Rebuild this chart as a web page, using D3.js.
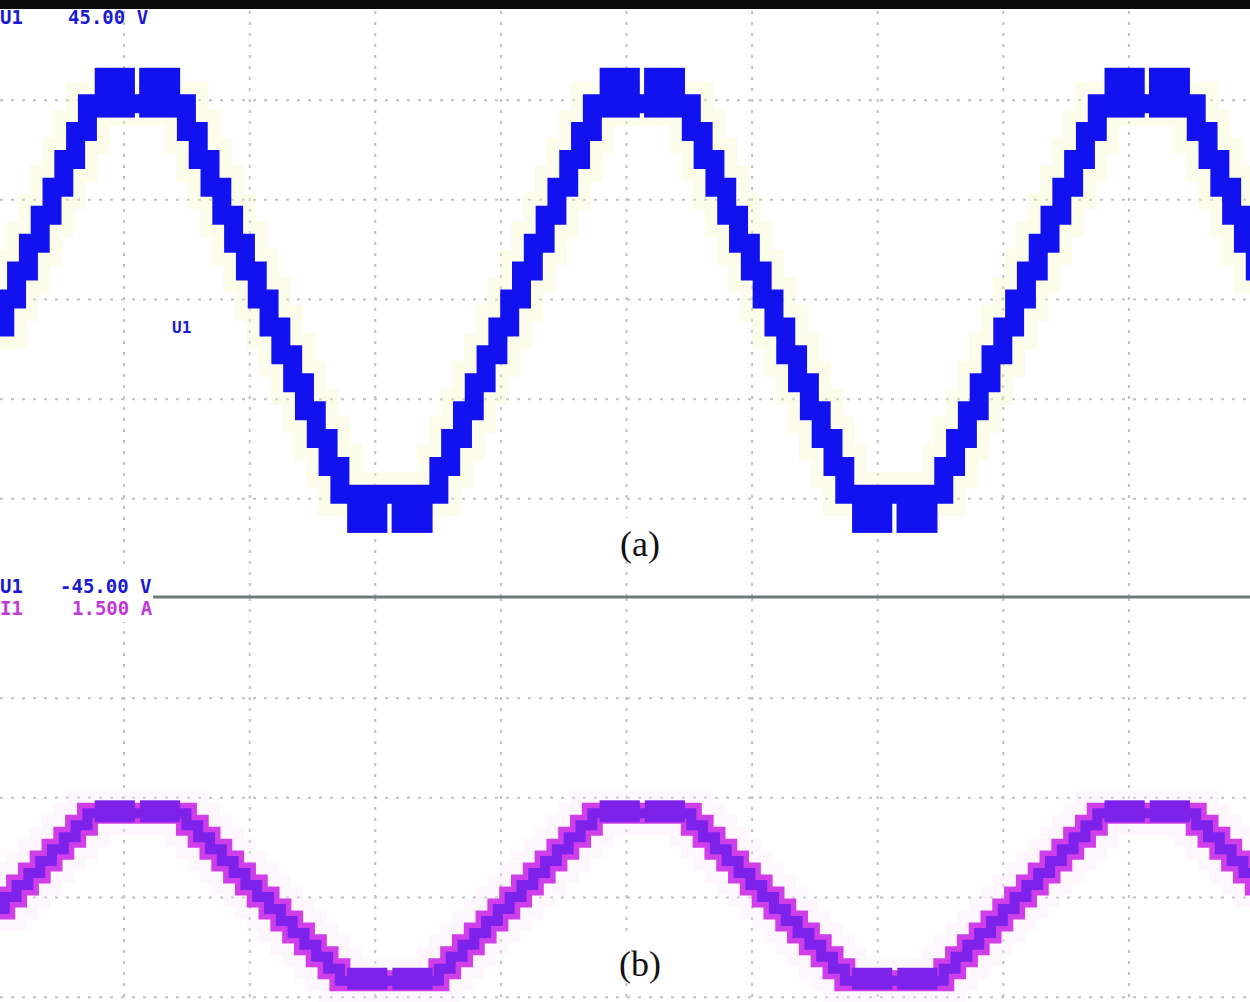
<!DOCTYPE html>
<html>
<head>
<meta charset="utf-8">
<script src="https://cdnjs.cloudflare.com/ajax/libs/d3/7.8.5/d3.min.js"></script>
<style>
  html, body { margin: 0; padding: 0; background: #fff; }
  svg { display: block; }
  .grid line { stroke: #b9c3c3; stroke-width: 2; stroke-dasharray: 3,8; }
  .grid path { display: none; }
  .scope { font-family: "DejaVu Sans Mono", monospace; font-weight: bold; font-size: 19px; }
  .panel-label { font-family: "Liberation Serif", "Times New Roman", serif; font-size: 36px; }
</style>
</head>
<body>
<svg id="chart"></svg>
<script>
'use strict';

// time in ms (5 ms/div), voltage in V (15 V/div), current in A (0.5 A/div)
var timeTicks = [5, 10, 15, 20, 25, 30, 35, 40, 45];
var voltTicks = [-30, -15, 0, 15, 30];
var currTicks = [1.0, 0.5, 0, -0.5];

// staircase of the inverter voltage U1: [t (ms), level (V)]
var voltSteps = [
    [-0.1, -4.2], [0.27, 0], [0.74, 4.2], [1.21, 8.4], [1.68, 12.6], [2.15, 16.8], [2.62, 21.0], [3.09, 25.2], [3.56, 29.4],
    [7.50, 25.2], [7.97, 21.0], [8.44, 16.8], [8.91, 12.6], [9.38, 8.4], [9.85, 4.2], [10.32, 0], [10.79, -4.2],
    [11.26, -8.4], [11.73, -12.6], [12.20, -16.8], [12.67, -21.0], [13.14, -25.2], [13.61, -29.4],
    [17.55, -25.2], [18.02, -21.0], [18.49, -16.8], [18.96, -12.6], [19.43, -8.4], [19.90, -4.2], [20.37, 0], [20.84, 4.2],
    [21.31, 8.4], [21.78, 12.6], [22.25, 16.8], [22.72, 21.0], [23.19, 25.2], [23.66, 29.4],
    [27.60, 25.2], [28.07, 21.0], [28.54, 16.8], [29.01, 12.6], [29.48, 8.4], [29.95, 4.2], [30.42, 0], [30.89, -4.2],
    [31.36, -8.4], [31.83, -12.6], [32.30, -16.8], [32.77, -21.0], [33.24, -25.2], [33.71, -29.4],
    [37.65, -25.2], [38.12, -21.0], [38.59, -16.8], [39.06, -12.6], [39.53, -8.4], [40.00, -4.2], [40.47, 0], [40.94, 4.2],
    [41.41, 8.4], [41.88, 12.6], [42.35, 16.8], [42.82, 21.0], [43.29, 25.2], [43.76, 29.4],
    [47.70, 25.2], [48.17, 21.0], [48.64, 16.8], [49.11, 12.6], [49.58, 8.4], [50.05, 4.2], [50.30, 4.2]
];
// PWM plateaus of U1: [t0, t1, vLow, vHigh]
var voltPlateaus = [
    [3.85, 5.45, 27.3, 34.8], [5.62, 7.25, 27.3, 34.8],
    [13.90, 15.50, -35.2, -28.0], [15.67, 17.30, -35.2, -28.0],
    [23.95, 25.55, 27.3, 34.8], [25.72, 27.35, 27.3, 34.8],
    [34.00, 35.60, -35.2, -28.0], [35.77, 37.40, -35.2, -28.0],
    [44.05, 45.65, 27.3, 34.8], [45.82, 47.45, 27.3, 34.8]
];

// staircase of the load current I1: [t (ms), level (A)]
var currSteps = [
    [-0.1, -0.06], [0.27, 0], [0.74, 0.06], [1.21, 0.12], [1.68, 0.18], [2.15, 0.24], [2.62, 0.30], [3.09, 0.36], [3.56, 0.42],
    [7.50, 0.36], [7.97, 0.30], [8.44, 0.24], [8.91, 0.18], [9.38, 0.12], [9.85, 0.06], [10.32, 0], [10.79, -0.06],
    [11.26, -0.12], [11.73, -0.18], [12.20, -0.24], [12.67, -0.30], [13.14, -0.36], [13.61, -0.42],
    [17.55, -0.36], [18.02, -0.30], [18.49, -0.24], [18.96, -0.18], [19.43, -0.12], [19.90, -0.06], [20.37, 0], [20.84, 0.06],
    [21.31, 0.12], [21.78, 0.18], [22.25, 0.24], [22.72, 0.30], [23.19, 0.36], [23.66, 0.42],
    [27.60, 0.36], [28.07, 0.30], [28.54, 0.24], [29.01, 0.18], [29.48, 0.12], [29.95, 0.06], [30.42, 0], [30.89, -0.06],
    [31.36, -0.12], [31.83, -0.18], [32.30, -0.24], [32.77, -0.30], [33.24, -0.36], [33.71, -0.42],
    [37.65, -0.36], [38.12, -0.30], [38.59, -0.24], [39.06, -0.18], [39.53, -0.12], [40.00, -0.06], [40.47, 0], [40.94, 0.06],
    [41.41, 0.12], [41.88, 0.18], [42.35, 0.24], [42.82, 0.30], [43.29, 0.36], [43.76, 0.42],
    [47.70, 0.36], [48.17, 0.30], [48.64, 0.24], [49.11, 0.18], [49.58, 0.12], [50.05, 0.06], [50.30, 0.06]
];
var currPlateaus = [
    [3.85, 5.45, 0.375, 0.485], [5.65, 7.25, 0.375, 0.485],
    [13.90, 15.50, -0.465, -0.355], [15.70, 17.30, -0.465, -0.355],
    [23.95, 25.55, 0.375, 0.485], [25.75, 27.35, 0.375, 0.485],
    [34.00, 35.60, -0.465, -0.355], [35.80, 37.40, -0.465, -0.355],
    [44.05, 45.65, 0.375, 0.485], [45.85, 47.45, 0.375, 0.485]
];

// on-screen readouts
var voltTopLabel = ['U1', '45.00 V'];
var voltBottomLabel = ['U1', '-45.00 V'];
var currTopLabel = ['I1', '1.500 A'];
var panelLabels = ['(a)', '(b)'];

var chart = (function() {
    var W = 1250, H = 1002,
        _svg = d3.select('#chart').attr('width', W).attr('height', H),
        _x = d3.scaleLinear().domain([0, 50]).range([-2, 1254]),
        _yV = d3.scaleLinear().domain([-45, 45]).range([598, 0]),
        _yI = d3.scaleLinear().domain([-1.5, 1.5]).range([1196, 598])
    ;
    var blue = '#1212f0', magenta = '#cf3ee8', violet = '#7d22ea';

    _svg.append('rect').attr('width', W).attr('height', H).attr('fill', '#fff');

    // grid, panel (a)
    _svg.append('g').attr('class', 'grid')
        .call(d3.axisTop(_x).tickValues(timeTicks).tickSize(-598).tickFormat(''));
    _svg.append('g').attr('class', 'grid')
        .call(d3.axisLeft(_yV).tickValues(voltTicks).tickSize(-W).tickFormat(''));
    // grid, panel (b)
    _svg.append('g').attr('class', 'grid')
        .attr('transform', 'translate(0,598)')
        .call(d3.axisTop(_x).tickValues(timeTicks).tickSize(-410).tickFormat(''));
    _svg.append('g').attr('class', 'grid')
        .call(d3.axisLeft(_yI).tickValues(currTicks).tickSize(-W).tickFormat(''));

    function drawTrace(steps, plateaus, y, halo, colors, width) {
        var line = d3.line()
            .x(function(d) { return _x(d[0]); })
            .y(function(d) { return y(d[1]); })
            .curve(d3.curveStepAfter);
        var g = _svg.append('g');
        g.append('path').datum(steps)
            .attr('d', line).attr('fill', 'none')
            .attr('stroke', halo).attr('stroke-width', 44).attr('opacity', 0.35);
        colors.forEach(function(c, i) {
            g.append('path').datum(steps)
                .attr('d', line).attr('fill', 'none')
                .attr('stroke', c).attr('stroke-width', width[i])
                .attr('stroke-linejoin', 'miter');
        });
        g.selectAll('rect.pl').data(plateaus).enter().append('rect')
            .attr('class', 'pl')
            .attr('x', function(d) { return _x(d[0]); })
            .attr('width', function(d) { return _x(d[1]) - _x(d[0]); })
            .attr('y', function(d) { return y(d[3]); })
            .attr('height', function(d) { return y(d[2]) - y(d[3]); })
            .attr('fill', colors[colors.length - 1]);
        return g;
    }

    drawTrace(voltSteps, voltPlateaus, _yV, '#f6f6c4', [blue], [19]);
    drawTrace(currSteps, currPlateaus, _yI, '#f8e4f8', [magenta, violet], [21, 10]);

    // top frame and divider
    _svg.append('rect').attr('x', 0).attr('y', 0).attr('width', W).attr('height', 9).attr('fill', '#0b0b0b');
    _svg.append('line').attr('x1', 0).attr('x2', W).attr('y1', 597).attr('y2', 597)
        .attr('stroke', '#6f7a7a').attr('stroke-width', 3);

    // readouts
    _svg.append('rect').attr('x', 0).attr('y', 570).attr('width', 153).attr('height', 52).attr('fill', '#fff');
    function readout(lbl, yPos, xVal, color) {
        _svg.append('text').attr('class', 'scope').attr('x', 0).attr('y', yPos).attr('fill', color).text(lbl[0]);
        _svg.append('text').attr('class', 'scope').attr('x', xVal).attr('y', yPos).attr('fill', color).text(lbl[1]);
    }
    readout(voltTopLabel, 24, 68, '#1a1ad2');
    readout(voltBottomLabel, 593, 60, '#1a1ad2');
    readout(currTopLabel, 615, 72, '#c03ad6');
    _svg.append('text').attr('class', 'scope').attr('x', 172).attr('y', 333)
        .style('font-size', '16px').attr('fill', '#1a1ad2').text(voltTopLabel[0]);

    // panel captions
    [[panelLabels[0], 546], [panelLabels[1], 966]].forEach(function(p) {
        _svg.append('rect').attr('x', 612).attr('y', p[1] - 28).attr('width', 58).attr('height', 42).attr('fill', '#fff');
        _svg.append('text').attr('class', 'panel-label')
            .attr('x', 640).attr('y', p[1] + 10)
            .attr('text-anchor', 'middle').attr('fill', '#111').text(p[0]);
    });
})();
</script>
</body>
</html>
